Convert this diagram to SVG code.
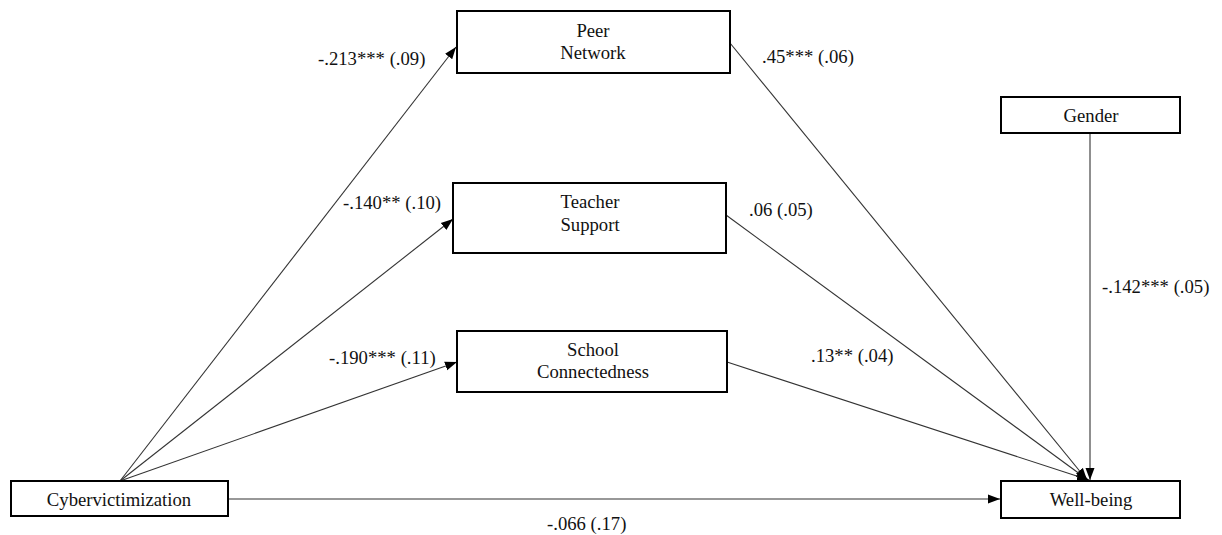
<svg xmlns="http://www.w3.org/2000/svg" width="1222" height="535" viewBox="0 0 1222 535">
<style>
.box{fill:#fff;stroke:#000;stroke-width:2}
text{font-family:'Liberation Serif','Times New Roman','DejaVu Serif',serif;font-size:18.7px;fill:#111}
.c{text-anchor:middle}
.ln{stroke:#333;stroke-width:1.1;fill:none;marker-end:url(#ah)}
</style>
<defs>
<marker id="ah" markerWidth="13" markerHeight="10" refX="12" refY="5" orient="auto" markerUnits="userSpaceOnUse">
<path d="M0,0.5 L12,5 L0,9.5 Z" fill="#000"/>
</marker>
</defs>
<rect width="1222" height="535" fill="#fff"/>
<g id="connectors">
<line class="ln" x1="120" y1="481" x2="456" y2="47"/>
<line class="ln" x1="120" y1="481" x2="453" y2="219"/>
<line class="ln" x1="120" y1="481" x2="457" y2="362"/>
<line class="ln" x1="228" y1="499" x2="1000" y2="499"/>
<line class="ln" x1="730" y1="43" x2="1087" y2="480"/>
<line class="ln" x1="726" y1="215" x2="1088" y2="480"/>
<line class="ln" x1="727" y1="362" x2="1089" y2="480"/>
<line class="ln" x1="1090" y1="133" x2="1090" y2="480"/>
<text x="318" y="65">-.213*** (.09)</text>
<text x="343" y="209">-.140** (.10)</text>
<text x="329" y="364">-.190*** (.11)</text>
<text x="762" y="63">.45*** (.06)</text>
<text x="749" y="216">.06 (.05)</text>
<text x="811" y="362">.13** (.04)</text>
<text x="1102" y="293">-.142*** (.05)</text>
<text x="547" y="530">-.066 (.17)</text>
</g>
<g id="peer">
<rect class="box" x="457" y="11" width="273" height="62"/>
<text class="c" x="593" y="37">Peer</text>
<text class="c" x="593" y="59">Network</text>
</g>
<g id="teacher">
<rect class="box" x="453" y="183" width="273" height="70"/>
<text class="c" x="590" y="208">Teacher</text>
<text class="c" x="590" y="231">Support</text>
</g>
<g id="school">
<rect class="box" x="457" y="331" width="270" height="61"/>
<text class="c" x="593" y="356">School</text>
<text class="c" x="593" y="378">Connectedness</text>
</g>
<g id="cyber">
<rect class="box" x="11" y="481" width="217" height="35"/>
<text class="c" x="119" y="506">Cybervictimization</text>
</g>
<g id="wellbeing">
<rect class="box" x="1001" y="481" width="179" height="37"/>
<text class="c" x="1091" y="506">Well-being</text>
</g>
<g id="gender">
<rect class="box" x="1001" y="97" width="179" height="36"/>
<text class="c" x="1091" y="122">Gender</text>
</g>
</svg>
